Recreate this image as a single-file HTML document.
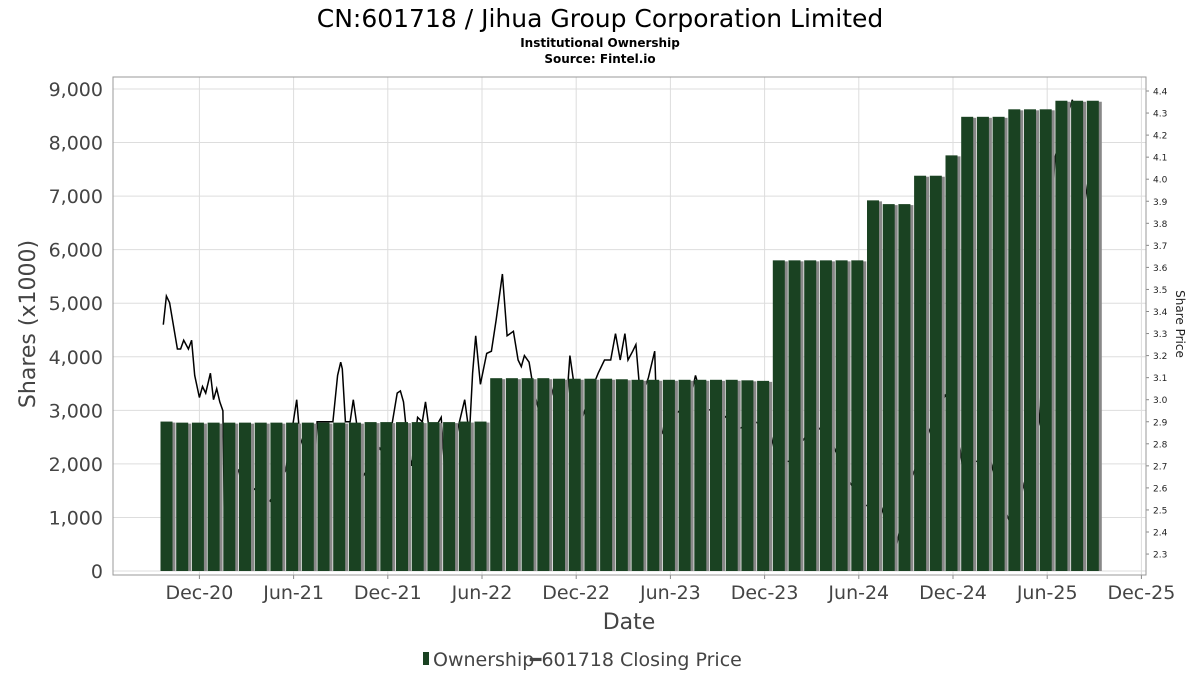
<!DOCTYPE html>
<html><head><meta charset="utf-8"><style>
body{margin:0;background:#fff;font-family:"Liberation Sans","DejaVu Sans",sans-serif}
svg text{font-family:"DejaVu Sans","Liberation Sans",sans-serif}
</style></head><body>
<svg id="c" width="1200" height="675" xmlns="http://www.w3.org/2000/svg">
<text x="600" y="27" text-anchor="middle" font-size="25">CN:601718 / Jihua Group Corporation Limited</text>
<text x="600" y="47" text-anchor="middle" font-size="12" font-weight="bold">Institutional Ownership</text>
<text x="600" y="63" text-anchor="middle" font-size="12" font-weight="bold">Source: Fintel.io</text>
<g id="grid"></g><g id="line"></g><g id="bars"></g><g id="axes"></g>
<text transform="translate(35,324) rotate(-90)" text-anchor="middle" font-size="22" fill="#444">Shares (x1000)</text>
<text transform="translate(1176,324) rotate(90)" text-anchor="middle" font-size="12" fill="#222">Share Price</text>
<text x="629" y="629" text-anchor="middle" font-size="22" fill="#444">Date</text>
<g>
<rect x="423" y="652" width="6" height="13" fill="#1a4222"/>
<text x="433" y="666" font-size="19" fill="#444">Ownership</text>
<text x="530" y="666" font-size="19" fill="#444">━601718 Closing Price</text>
</g>
</svg>
<script>
const xLabels=["Dec-20","Jun-21","Dec-21","Jun-22","Dec-22","Jun-23","Dec-23","Jun-24","Dec-24","Jun-25","Dec-25"];
const xLabelMonths=[2,8,14,20,26,32,38,44,50,56,62];
const leftTicks=[0,1000,2000,3000,4000,5000,6000,7000,8000,9000];
const rightTicks=[2.3,2.4,2.5,2.6,2.7,2.8,2.9,3.0,3.1,3.2,3.3,3.4,3.5,3.6,3.7,3.8,3.9,4.0,4.1,4.2,4.3,4.4];
const ownership=[2790,2770,2770,2770,2770,2770,2770,2770,2770,2770,2770,2770,2770,2780,2780,2780,2780,2780,2780,2790,2790,
3600,3600,3600,3600,3590,3590,3590,3590,3580,3570,3570,3570,3570,3570,3570,3570,3560,3550,
5800,5800,5800,5800,5800,5800,6920,6850,6850,7380,7380,7760,8480,8480,8480,8620,8620,8620,8780,8780,8780];
const priceT=[-0.3,-0.1,0.1,0.6,0.8,1.0,1.3,1.5,1.7,2.0,2.2,2.4,2.7,2.9,3.1,3.3,3.5,3.6,4.5,5.4,6.5,7.5,8.2,8.4,9.3,9.5,10.5,10.8,11.0,11.1,11.3,11.6,11.8,12.0,12.4,13.5,13.9,14.6,14.8,15.0,15.3,15.5,15.9,16.2,16.4,16.7,17.4,17.7,18.5,18.9,19.2,19.4,19.6,19.9,20.3,20.6,20.9,21.3,21.6,22.0,22.3,22.5,22.7,23.0,23.3,23.7,24.0,24.3,24.6,25.1,25.4,25.6,26.0,26.4,27.0,27.4,27.8,28.2,28.5,28.8,29.1,29.3,29.6,29.8,30.1,30.6,31.0,31.1,31.5,32.4,33.2,33.6,34.2,35.2,36.4,37.4,38.3,38.8,39.6,40.3,41.2,42.2,43.3,44.4,45.4,46.1,46.4,47.3,48.5,49.5,50.1,50.8,51.4,52.4,53.0,53.6,54.3,55.5,56.5,57.6,58.6,59.0];
const priceV=[3.34,3.47,3.44,3.23,3.23,3.27,3.23,3.27,3.11,3.01,3.06,3.03,3.12,3.0,3.05,2.99,2.95,2.43,2.68,2.6,2.54,2.68,3.0,2.83,2.66,2.9,2.9,3.11,3.17,3.14,2.9,2.9,3.0,2.9,2.65,2.78,2.73,3.03,3.04,2.99,2.78,2.7,2.92,2.9,2.99,2.83,2.92,2.6,2.88,3.0,2.84,3.12,3.29,3.07,3.21,3.22,3.36,3.57,3.29,3.31,3.18,3.15,3.2,3.17,3.04,2.93,2.95,3.09,3.01,2.92,3.0,3.2,3.0,2.92,3.05,3.12,3.18,3.18,3.3,3.18,3.3,3.18,3.22,3.25,3.0,3.1,3.22,2.99,2.85,2.94,2.98,3.11,2.96,2.94,2.87,2.9,2.87,2.72,2.72,2.8,2.89,2.82,2.64,2.52,2.52,2.36,2.34,2.63,2.86,3.02,2.95,2.6,2.72,2.72,2.55,2.45,2.55,2.9,4.1,4.36,3.9,3.6];
const NS="http://www.w3.org/2000/svg";
const X=m=>168+m*15.7, Y=v=>571-v*0.05356, P=p=>91+(4.4-p)*220.5;
const L=113,R=1146,T=77,B=575;
function mk(t,a,par){const e=document.createElementNS(NS,t);for(const k in a)e.setAttribute(k,a[k]);document.getElementById(par).appendChild(e);return e;}
leftTicks.forEach(v=>{const g=mk('line',{x1:L,x2:R,y1:Y(v),y2:Y(v),stroke:'#ddd'},'grid');


const t=mk('text',{x:103,y:Y(v)+7,'text-anchor':'end','font-size':19,fill:'#444'},'axes');t.textContent=v.toLocaleString('en-US');

});
xLabelMonths.forEach((m,i)=>{const g=mk('line',{x1:X(m),x2:X(m),y1:T,y2:B,stroke:'#ddd'},'grid');


mk('line',{x1:X(m),x2:X(m),y1:B,y2:B+4,stroke:'#888'},'axes');
const t=mk('text',{x:X(m),y:599,'text-anchor':'middle','font-size':19,fill:'#444'},'axes');t.textContent=xLabels[i];

});
rightTicks.forEach(p=>{mk('line',{x1:R,x2:R+3,y1:P(p),y2:P(p),stroke:'#888'},'axes');
const t=mk('text',{x:1153,y:P(p)+3.5,'font-size':9,fill:'#222'},'axes');t.textContent=p.toFixed(1);

});
const pl=mk('polyline',{points:priceT.map((t,i)=>X(t).toFixed(1)+','+P(priceV[i]).toFixed(1)).join(' '),fill:'none',stroke:'#000','stroke-width':1.5},'line');


ownership.forEach((v,i)=>{const x=X(i)-7.5;
mk('rect',{x:x+3,y:Y(v)+1,width:12,height:B-4-Y(v)-1,fill:'#888'},'bars');
const b=mk('rect',{x:x,y:Y(v),width:12,height:B-4-Y(v),fill:'#1a4222'},'bars');

});
mk('rect',{x:L,y:T,width:R-L,height:B-T,fill:'none',stroke:'#999'},'axes');
</script>
</body></html>
